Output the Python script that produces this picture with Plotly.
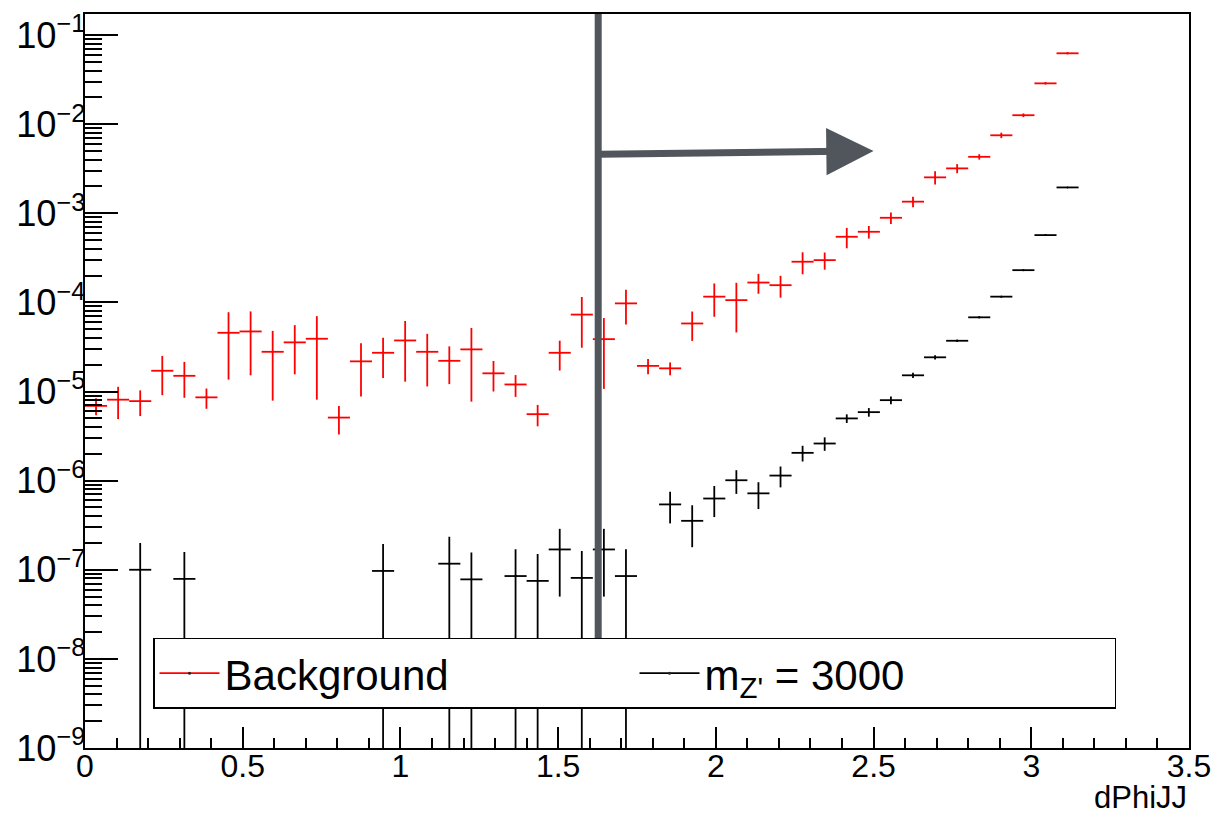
import math
import plotly.graph_objects as go

# dPhiJJ bin centres (45 bins of width 0.07 between 0 and 3.15)
dphi = [0.035, 0.105, 0.175, 0.245, 0.315, 0.385, 0.455, 0.525, 0.595,
        0.665, 0.735, 0.805, 0.875, 0.945, 1.015, 1.085, 1.155, 1.225,
        1.295, 1.365, 1.435, 1.505, 1.575, 1.645, 1.715, 1.785, 1.855,
        1.925, 1.995, 2.065, 2.135, 2.205, 2.275, 2.345, 2.415, 2.485,
        2.555, 2.625, 2.695, 2.765, 2.835, 2.905, 2.975, 3.045, 3.115]
half_bin = 0.035

# Background: normalised yield per bin and its uncertainty
bkg = [6.9e-6, 8.1e-6, 7.8e-6, 1.71e-5, 1.50e-5, 8.6e-6, 4.56e-5, 4.72e-5,
       2.79e-5, 3.56e-5, 3.91e-5, 5.1e-6, 2.18e-5, 2.72e-5, 3.74e-5, 2.79e-5,
       2.21e-5, 2.97e-5, 1.60e-5, 1.20e-5, 5.57e-6, 2.72e-5, 7.3e-5, 3.87e-5,
       9.75e-5, 1.94e-5, 1.82e-5, 5.8e-5, 1.16e-4, 1.06e-4, 1.67e-4, 1.56e-4,
       2.86e-4, 2.98e-4, 5.45e-4, 6.2e-4, 8.9e-4, 1.35e-3, 2.53e-3, 3.19e-3,
       4.3e-3, 7.5e-3, 1.26e-2, 2.87e-2, 6.24e-2]
bkg_err = [1.5e-6, 3.2e-6, 2.5e-6, 8.0e-6, 6.5e-6, 2.2e-6, 3.2e-5, 3.2e-5,
           2.0e-5, 2.0e-5, 3.1e-5, 1.8e-6, 1.3e-5, 1.3e-5, 2.45e-5, 1.65e-5,
           1.0e-5, 2.2e-5, 6.0e-6, 3.3e-6, 1.5e-6, 1.0e-5, 4.2e-5, 2.8e-5,
           4.1e-5, 3.8e-6, 3.0e-6, 2.1e-5, 4.7e-5, 6.0e-5, 4.2e-5, 4.3e-5,
           7.9e-5, 6.5e-5, 1.4e-4, 1.0e-4, 1.3e-4, 1.8e-4, 4.3e-4, 3.7e-4,
           3.0e-4, 5.3e-4, 6.0e-4, 8.6e-4, 1.6e-3]

# Signal, m_Z' = 3000 (empty bins left as None)
sig = [None, None, 1.0e-7, None, 7.9e-8, None, None, None,
       None, None, None, None, None, 9.7e-8, None, None,
       1.17e-7, 7.8e-8, None, 8.5e-8, 7.5e-8, 1.69e-7, 8.1e-8, 1.69e-7,
       8.5e-8, None, 5.41e-7, 3.54e-7, 6.3e-7, 1.01e-6, 7.2e-7, 1.14e-6,
       2.05e-6, 2.61e-6, 4.99e-6, 5.87e-6, 8.0e-6, 1.52e-5, 2.42e-5, 3.71e-5,
       6.8e-5, 1.16e-4, 2.3e-4, 5.69e-4, 1.95e-3]
sig_err = [None, None, 1.0e-7, None, 7.9e-8, None, None, None,
           None, None, None, None, None, 9.7e-8, None, None,
           1.17e-7, 7.8e-8, None, 8.5e-8, 7.5e-8, 1.19e-7, 8.1e-8, 1.19e-7,
           8.5e-8, None, 2.1e-7, 1.75e-7, 2.4e-7, 3.0e-7, 2.4e-7, 3.0e-7,
           4.1e-7, 4.5e-7, 5.5e-7, 6.5e-7, 8.0e-7, 1.0e-6, 1.3e-6, 1.1e-6,
           1.7e-6, 2.5e-6, 4.0e-6, 8.0e-6, 2.0e-5]

# Cut on dPhiJJ and the direction of the selected region
cut_dphi = 1.627
arrow_tail_y = 4.6e-3
arrow_tip = (2.5, 5.0e-3)

RED = "#ff0000"
BLACK = "#000000"
SLATE = "#51565c"
FONT = "Liberation Sans, Arial, Helvetica, sans-serif"


def hist_trace(y, err, color):
    return go.Scatter(
        x=dphi, y=y, mode="markers",
        marker=dict(color=color, size=2),
        error_y=dict(type="data", array=err, visible=True, color=color,
                     thickness=1.8, width=0),
        error_x=dict(type="constant", value=half_bin, visible=True,
                     color=color, thickness=1.8, width=0),
        showlegend=False, hoverinfo="x+y",
    )


def legend_entry(name, color):
    return go.Scatter(
        x=[None], y=[None], mode="lines+markers", name=name,
        line=dict(color=color, width=1.8),
        marker=dict(color="#222222", size=3),
    )


fig = go.Figure()
fig.add_trace(hist_trace(bkg, bkg_err, RED))
fig.add_trace(hist_trace(sig, sig_err, BLACK))
fig.add_trace(legend_entry("Background", RED))
fig.add_trace(legend_entry("m<sub>Z'</sub> = 3000", BLACK))

# vertical cut line
fig.add_shape(type="line", xref="x", yref="paper",
              x0=cut_dphi, x1=cut_dphi, y0=0.15, y1=1.0,
              line=dict(color=SLATE, width=7), layer="above")

# arrow pointing towards the kept region
fig.add_annotation(
    x=arrow_tip[0], y=math.log10(arrow_tip[1]), xref="x", yref="y",
    ax=cut_dphi, ay=math.log10(arrow_tail_y), axref="x", ayref="y",
    text="", showarrow=True, arrowhead=2, arrowsize=1.35, arrowwidth=7,
    arrowcolor=SLATE, standoff=0,
)

# x-axis title, right aligned under the axis
fig.add_annotation(
    text="dPhiJJ", xref="paper", yref="paper", x=0.999, y=-0.067,
    xanchor="right", yanchor="middle", showarrow=False,
    height=32, valign="middle", borderpad=0,
    font=dict(family=FONT, size=31, color=BLACK),
)

axis_common = dict(
    showline=True, linecolor=BLACK, linewidth=1.5, mirror=True,
    showgrid=False, zeroline=False, ticks="inside", tickwidth=1.5,
    tickcolor=BLACK, automargin=False,
)

fig.update_xaxes(
    range=[0, 3.5], tick0=0, dtick=0.5, ticklen=21, ticklabelstandoff=-11,
    tickfont=dict(family=FONT, size=32, color=BLACK),
    minor=dict(ticks="inside", dtick=0.1, ticklen=10, tickwidth=1.5,
               tickcolor=BLACK, showgrid=False),
    **axis_common,
)
fig.update_yaxes(
    type="log", range=[-9, -0.764], dtick=1, exponentformat="power",
    ticklen=33, ticklabelstandoff=-8,
    tickfont=dict(family=FONT, size=29, color=BLACK),
    minor=dict(ticks="inside", dtick="D1", ticklen=17, tickwidth=1.5,
               tickcolor=BLACK, showgrid=False),
    **axis_common,
)

fig.update_layout(
    width=1214, height=814, autosize=False,
    margin=dict(l=85, r=25, t=14, b=66, pad=0),
    paper_bgcolor="white", plot_bgcolor="white",
    font=dict(family=FONT, color=BLACK),
    legend=dict(
        orientation="h", x=0.0616, y=0.15, xanchor="left", yanchor="top",
        bgcolor="white", bordercolor=BLACK, borderwidth=1.5,
        font=dict(family=FONT, size=42, color=BLACK),
        entrywidth=405, entrywidthmode="pixels", itemwidth=60,
    ),
)

fig.write_html("out.html")
